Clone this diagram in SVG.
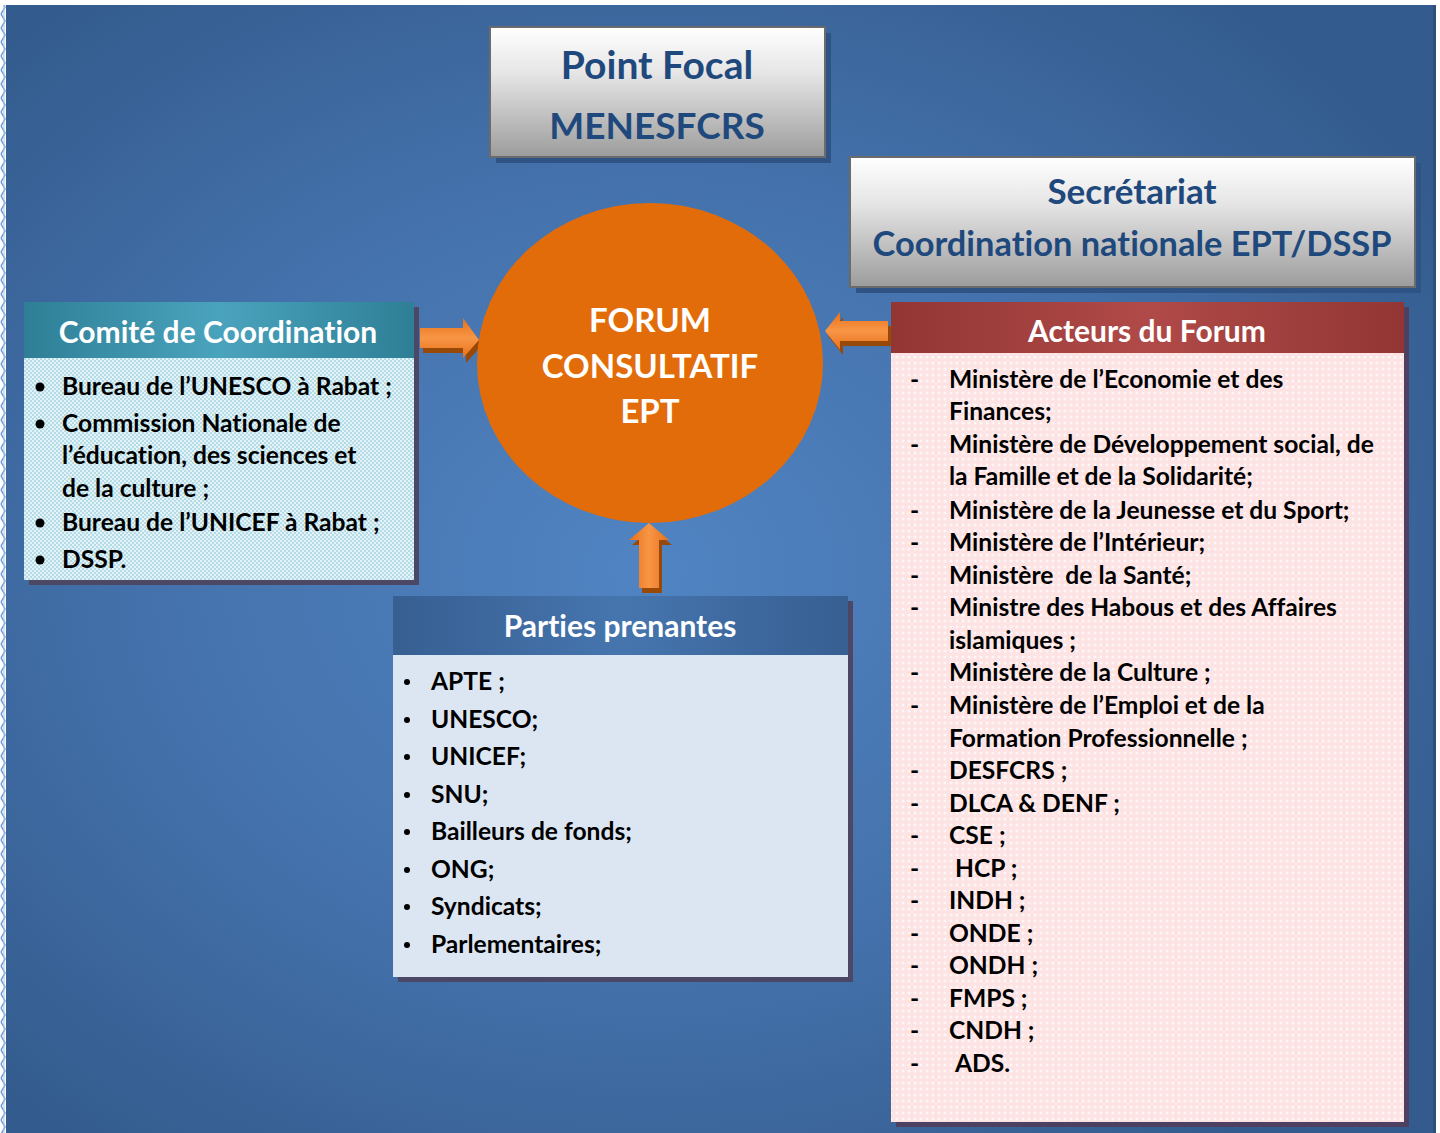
<svg xmlns="http://www.w3.org/2000/svg" width="1440" height="1133" viewBox="0 0 1440 1133">
<style>
.t{font-family:Lato,"Open Sans","Liberation Sans",sans-serif;font-weight:bold;font-variant-ligatures:none}
.li{font-size:24.6px;fill:#000}
.hd{font-size:30px;fill:#fff;text-anchor:middle}
.gt{font-size:37px;fill:#1f497d;text-anchor:middle}
.ct{font-size:33px;fill:#fff;text-anchor:middle}
.conn path{stroke:none}
</style>
<defs>
<radialGradient id="bg" cx="0.45" cy="0.5" r="0.65">
<stop offset="0" stop-color="#5084c2"/>
<stop offset="0.55" stop-color="#4471ab"/>
<stop offset="1" stop-color="#335b8d"/>
</radialGradient>
<linearGradient id="gray" x1="0" y1="0" x2="0" y2="1">
<stop offset="0" stop-color="#ffffff"/>
<stop offset="0.35" stop-color="#e6e6e6"/>
<stop offset="1" stop-color="#9c9c9c"/>
</linearGradient>
<linearGradient id="teal" x1="0" y1="0" x2="1" y2="0">
<stop offset="0" stop-color="#2e7f96"/>
<stop offset="0.5" stop-color="#4aa3bd"/>
<stop offset="1" stop-color="#2e7f96"/>
</linearGradient>
<linearGradient id="red" x1="0" y1="0" x2="1" y2="0">
<stop offset="0" stop-color="#923634"/>
<stop offset="0.5" stop-color="#b04a48"/>
<stop offset="1" stop-color="#923634"/>
</linearGradient>
<linearGradient id="blue" x1="0" y1="0" x2="1" y2="0">
<stop offset="0" stop-color="#375f92"/>
<stop offset="0.5" stop-color="#4675ae"/>
<stop offset="1" stop-color="#375f92"/>
</linearGradient>
<pattern id="chk" width="4" height="4" patternUnits="userSpaceOnUse">
<rect width="4" height="4" fill="#b4dbe6"/>
<rect width="2" height="2" fill="#e4f3f7"/>
<rect x="2" y="2" width="2" height="2" fill="#e4f3f7"/>
</pattern>
<pattern id="pnk" width="6" height="6" patternUnits="userSpaceOnUse">
<rect width="6" height="6" fill="#fde3e3"/>
<circle cx="3" cy="3" r="1.6" fill="#fff5f5"/>
</pattern>
<linearGradient id="arrH" x1="0" y1="0" x2="0" y2="1">
<stop offset="0" stop-color="#e8701a"/>
<stop offset="0.5" stop-color="#f79646"/>
<stop offset="1" stop-color="#e8701a"/>
</linearGradient>
<linearGradient id="arrV" x1="0" y1="0" x2="1" y2="0">
<stop offset="0" stop-color="#e8701a"/>
<stop offset="0.5" stop-color="#f79646"/>
<stop offset="1" stop-color="#e8701a"/>
</linearGradient>
<pattern id="zz" width="8" height="14" patternUnits="userSpaceOnUse">
<rect width="8" height="14" fill="#ffffff"/>
<path d="M1 0 L5 7 L1 14" fill="none" stroke="#6c9ad6" stroke-width="1.5"/>
<path d="M4 0 L4 14" fill="none" stroke="#a9c6ec" stroke-width="1"/>
</pattern>
</defs>

<rect width="1440" height="1133" fill="#ffffff"/>
<rect x="0" y="5" width="7" height="1128" fill="url(#zz)"/>
<rect x="6" y="5" width="1428" height="1128" fill="url(#bg)"/>
<rect x="1433" y="5" width="3" height="1128" fill="#2e4f7a"/>

<g id="connectors" class="conn">
<path d="M423 333 H466 V323 L482 345 L466 363 V353 H423 Z" fill="#984807"/>
<path d="M420 328 H463 V318 L479 340 L463 358 V348 H420 Z" fill="url(#arrH)"/>
<path d="M828 336 L843 317 V326 H891 V346 H843 V355 Z" fill="#984807"/>
<path d="M825 331 L840 312 V321 H888 V341 H840 V350 Z" fill="url(#arrH)"/>
<path d="M652 528 L672 545 H662 V593 H642 V545 H632 Z" fill="#984807"/>
<path d="M649 523 L669 540 H659 V588 H639 V540 H629 Z" fill="url(#arrV)"/>
</g>

<g id="point-focal">
<rect x="496" y="33" width="335" height="130" fill="#2e5384"/>
<rect x="490" y="27" width="335" height="130" fill="url(#gray)" stroke="#6b6b6b" stroke-width="2"/>
<text class="t gt" x="657" y="79" style="font-size:39px">Point Focal</text>
<text class="t gt" x="657" y="139">MENESFCRS</text>
</g>

<g id="secretariat">
<rect x="856" y="163" width="565" height="130" fill="#2e5384"/>
<rect x="850" y="157" width="565" height="130" fill="url(#gray)" stroke="#6b6b6b" stroke-width="2"/>
<text class="t gt" x="1132" y="204" style="font-size:35px">Secrétariat</text>
<text class="t gt" x="1132" y="256" style="font-size:34.4px">Coordination nationale EPT/DSSP</text>
</g>

<g id="forum">
<ellipse cx="650" cy="363" rx="173" ry="160" fill="#e36c0a"/>
<text class="t ct" x="650" y="332">FORUM</text>
<text class="t ct" x="650" y="378">CONSULTATIF</text>
<text class="t ct" x="650" y="423">EPT</text>
</g>

<g id="comite">
<rect x="29" y="307" width="390" height="278" fill="#4d4766"/>
<rect x="24" y="302" width="390" height="278" fill="url(#chk)"/>
<rect x="24" y="302" width="390" height="56" fill="url(#teal)"/>
<text class="t hd" x="218" y="343">Comité de Coordination</text>
<g class="t li">
<circle cx="40" cy="387" r="4.5" fill="#000"/>
<text x="62" y="395">Bureau de l’UNESCO à Rabat ;</text>
<circle cx="40" cy="424" r="4.5" fill="#000"/>
<text x="62" y="432">Commission Nationale de</text>
<text x="62" y="464">l’éducation, des sciences et</text>
<text x="62" y="497">de la culture ;</text>
<circle cx="40" cy="523" r="4.5" fill="#000"/>
<text x="62" y="531">Bureau de l’UNICEF à Rabat ;</text>
<circle cx="40" cy="560" r="4.5" fill="#000"/>
<text x="62" y="568">DSSP.</text>
</g>
</g>

<g id="parties">
<rect x="398" y="601" width="455" height="381" fill="#4d4766"/>
<rect x="393" y="596" width="455" height="381" fill="#dce6f2"/>
<rect x="393" y="596" width="455" height="59" fill="url(#blue)"/>
<text class="t hd" x="620" y="637">Parties prenantes</text>
<g class="t li">
<circle cx="407" cy="682" r="3" fill="#000"/><text x="431" y="690">APTE ;</text>
<circle cx="407" cy="720" r="3" fill="#000"/><text x="431" y="728">UNESCO;</text>
<circle cx="407" cy="757" r="3" fill="#000"/><text x="431" y="765">UNICEF;</text>
<circle cx="407" cy="795" r="3" fill="#000"/><text x="431" y="803">SNU;</text>
<circle cx="407" cy="832" r="3" fill="#000"/><text x="431" y="840">Bailleurs de fonds;</text>
<circle cx="407" cy="870" r="3" fill="#000"/><text x="431" y="878">ONG;</text>
<circle cx="407" cy="907" r="3" fill="#000"/><text x="431" y="915">Syndicats;</text>
<circle cx="407" cy="945" r="3" fill="#000"/><text x="431" y="953">Parlementaires;</text>
</g>
</g>

<g id="acteurs">
<rect x="896" y="307" width="513" height="820" fill="#4d4060"/>
<rect x="891" y="302" width="513" height="820" fill="url(#pnk)"/>
<rect x="891" y="302" width="513" height="51" fill="url(#red)"/>
<text class="t hd" x="1147" y="342">Acteurs du Forum</text>
<g class="t li">
<text x="910" y="388">-</text><text x="949" y="388">Ministère de l’Economie et des</text>
<text x="949" y="420">Finances;</text>
<text x="910" y="453">-</text><text x="949" y="453">Ministère de Développement social, de</text>
<text x="949" y="485">la Famille et de la Solidarité;</text>
<text x="910" y="519">-</text><text x="949" y="519">Ministère de la Jeunesse et du Sport;</text>
<text x="910" y="551">-</text><text x="949" y="551">Ministère de l’Intérieur;</text>
<text x="910" y="584">-</text><text x="949" y="584" xml:space="preserve">Ministère  de la Santé;</text>
<text x="910" y="616">-</text><text x="949" y="616">Ministre des Habous et des Affaires</text>
<text x="949" y="649">islamiques ;</text>
<text x="910" y="681">-</text><text x="949" y="681">Ministère de la Culture ;</text>
<text x="910" y="714">-</text><text x="949" y="714">Ministère de l’Emploi et de la</text>
<text x="949" y="747">Formation Professionnelle ;</text>
<text x="910" y="779">-</text><text x="949" y="779">DESFCRS ;</text>
<text x="910" y="812">-</text><text x="949" y="812">DLCA &amp; DENF ;</text>
<text x="910" y="844">-</text><text x="949" y="844">CSE ;</text>
<text x="910" y="877">-</text><text x="955" y="877">HCP ;</text>
<text x="910" y="909">-</text><text x="949" y="909">INDH ;</text>
<text x="910" y="942">-</text><text x="949" y="942">ONDE ;</text>
<text x="910" y="974">-</text><text x="949" y="974">ONDH ;</text>
<text x="910" y="1007">-</text><text x="949" y="1007">FMPS ;</text>
<text x="910" y="1039">-</text><text x="949" y="1039">CNDH ;</text>
<text x="910" y="1072">-</text><text x="955" y="1072">ADS.</text>
</g>
</g>
</svg>
